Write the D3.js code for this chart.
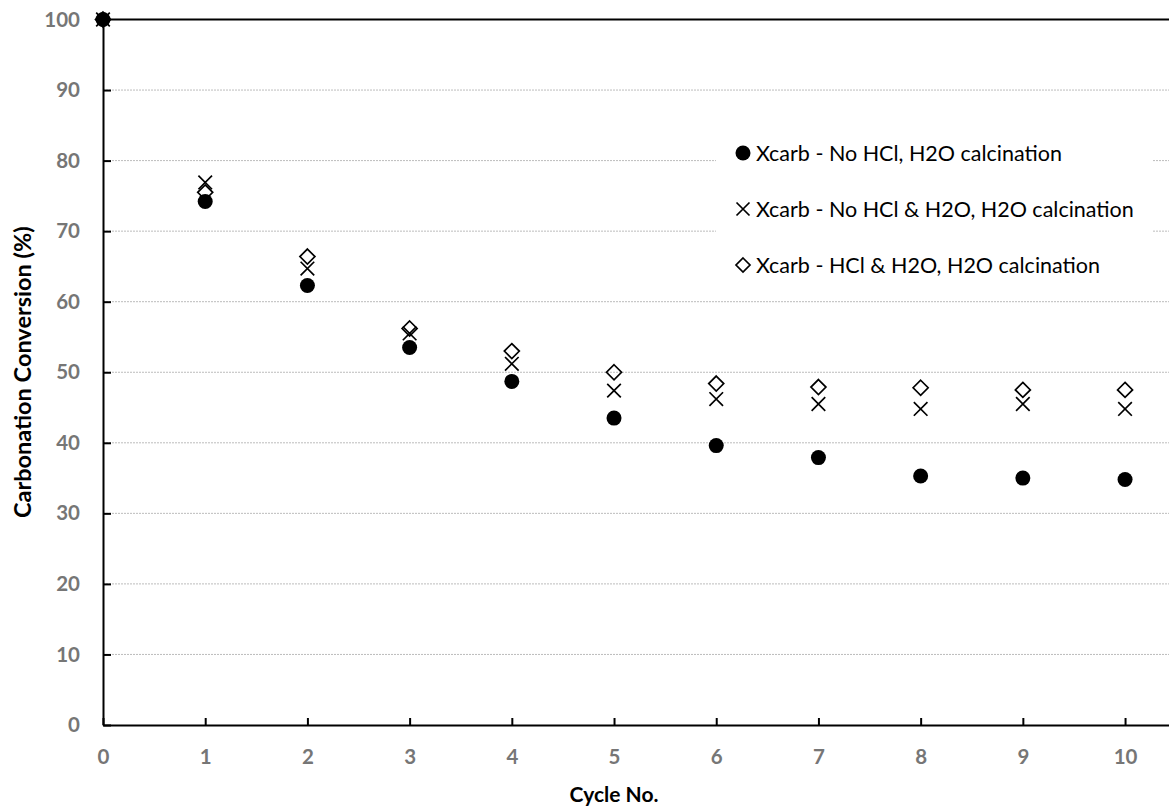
<!DOCTYPE html>
<html>
<head>
<meta charset="utf-8">
<script src="https://cdn.jsdelivr.net/npm/d3@7"></script>
<style>
  html, body { margin: 0; padding: 0; background: #fff; }
  svg { display: block; }
</style>
</head>
<body>
<div id="chart"></div>
<script>
// Cycle numbers and carbonation conversion (%) for the three test series
const cycles = [0, 1, 2, 3, 4, 5, 6, 7, 8, 9, 10];
const noHclH2oCalc   = [100, 74.2, 62.3, 53.5, 48.7, 43.5, 39.6, 37.9, 35.3, 35.0, 34.8];
const noHclH2oBoth   = [100, 76.9, 64.7, 55.5, 51.2, 47.4, 46.2, 45.5, 44.8, 45.5, 44.8];
const hclH2oCalc     = [100, 75.5, 66.4, 56.2, 53.0, 50.0, 48.4, 47.9, 47.8, 47.5, 47.5];
const seriesNames = [
  "Xcarb - No HCl, H2O calcination",
  "Xcarb - No HCl & H2O, H2O calcination",
  "Xcarb - HCl & H2O, H2O calcination"
];
const yTicks = [0, 10, 20, 30, 40, 50, 60, 70, 80, 90, 100];
const xTicks = [0, 1, 2, 3, 4, 5, 6, 7, 8, 9, 10];
const gridValues = [10, 20, 30, 40, 50, 60, 70, 80, 90];

const W = 1169, H = 811;
const FONT = "Lato, 'Liberation Sans', Arial, sans-serif";
const plotLeft = 103, plotRight = W, plotTop = 19.5, plotBottom = 725;

const svg = d3.select("#chart").append("svg")
  .attr("width", W).attr("height", H);

const x = d3.scaleLinear().domain([0, 10.43]).range([plotLeft, plotRight]);
const y = d3.scaleLinear().domain([0, 100]).range([plotBottom, plotTop]);

// dotted horizontal gridlines
svg.append("g").selectAll("line").data(gridValues).join("line")
  .attr("x1", plotLeft).attr("x2", plotRight)
  .attr("y1", d => y(d)).attr("y2", d => y(d))
  .attr("stroke", "#bcbcbc").attr("stroke-width", 1)
  .attr("stroke-dasharray", "2,1");

// solid top border at 100
svg.append("line")
  .attr("x1", plotLeft).attr("x2", plotRight)
  .attr("y1", y(100)).attr("y2", y(100))
  .attr("stroke", "#000").attr("stroke-width", 2);

// axes with inward tick marks
const yAxis = svg.append("g")
  .attr("transform", `translate(${plotLeft},0)`)
  .call(d3.axisLeft(y).tickValues(yTicks).tickSizeInner(-8).tickSizeOuter(0).tickPadding(23));
const xAxis = svg.append("g")
  .attr("transform", `translate(0,${plotBottom})`)
  .call(d3.axisBottom(x).tickValues(xTicks).tickSizeInner(-7).tickSizeOuter(0).tickPadding(24));

[yAxis, xAxis].forEach(a => {
  a.select(".domain").attr("stroke", "#000").attr("stroke-width", 2);
  a.selectAll(".tick line").attr("stroke", "#000").attr("stroke-width", 2);
  a.selectAll(".tick text")
    .attr("fill", "#767676")
    .style("font-family", FONT)
    .style("font-weight", "bold")
    .style("font-size", "20.5px");
});
yAxis.selectAll(".tick").filter(d => d === 100).select("line").remove();

// axis titles
svg.append("text")
  .attr("x", (x(0) + x(10)) / 2).attr("y", 802)
  .attr("text-anchor", "middle")
  .style("font-family", FONT).style("font-weight", "bold").style("font-size", "21px")
  .attr("fill", "#000")
  .text("Cycle No.");
svg.append("text")
  .attr("transform", `translate(31,${(plotTop + plotBottom) / 2}) rotate(-90)`)
  .attr("text-anchor", "middle")
  .style("font-family", FONT).style("font-weight", "bold").style("font-size", "23.5px")
  .attr("fill", "#000")
  .text("Carbonation Conversion (%)");

// marker drawing helpers
function drawCircle(g, cx, cy, r) {
  g.append("circle").attr("cx", cx).attr("cy", cy).attr("r", r).attr("fill", "#000");
}
function drawCross(g, cx, cy, h) {
  g.append("path")
    .attr("d", `M${cx - h},${cy - h}L${cx + h},${cy + h}M${cx - h},${cy + h}L${cx + h},${cy - h}`)
    .attr("stroke", "#000").attr("stroke-width", 1.7).attr("fill", "none");
}
function drawDiamond(g, cx, cy, h) {
  g.append("path")
    .attr("d", `M${cx},${cy - h}L${cx + h},${cy}L${cx},${cy + h}L${cx - h},${cy}Z`)
    .attr("stroke", "#000").attr("stroke-width", 1.7).attr("fill", "none");
}

const marks = svg.append("g");
const s1 = marks.append("g"), s2 = marks.append("g"), s3 = marks.append("g");
cycles.forEach((c, i) => drawCircle(s1, x(c), y(noHclH2oCalc[i]), 7.5));
cycles.forEach((c, i) => drawCross(s2, x(c), y(noHclH2oBoth[i]), 6.8));
cycles.forEach((c, i) => drawDiamond(s3, x(c), y(hclH2oCalc[i]), 7.5));

// legend
const lg = svg.append("g");
lg.append("rect").attr("x", 716).attr("y", 124).attr("width", 436).attr("height", 164).attr("fill", "#fff");
const rowY = [153, 209, 265];
const mx = 743;
drawCircle(lg, mx, rowY[0], 7.5);
drawCross(lg, mx, rowY[1], 6.5);
drawDiamond(lg, mx, rowY[2], 7);
lg.selectAll("text").data(seriesNames).join("text")
  .attr("x", 756).attr("y", (d, i) => rowY[i])
  .attr("dy", "0.35em")
  .style("font-family", FONT).style("font-size", "21.5px")
  .attr("fill", "#000")
  .text(d => d);
</script>
</body>
</html>
